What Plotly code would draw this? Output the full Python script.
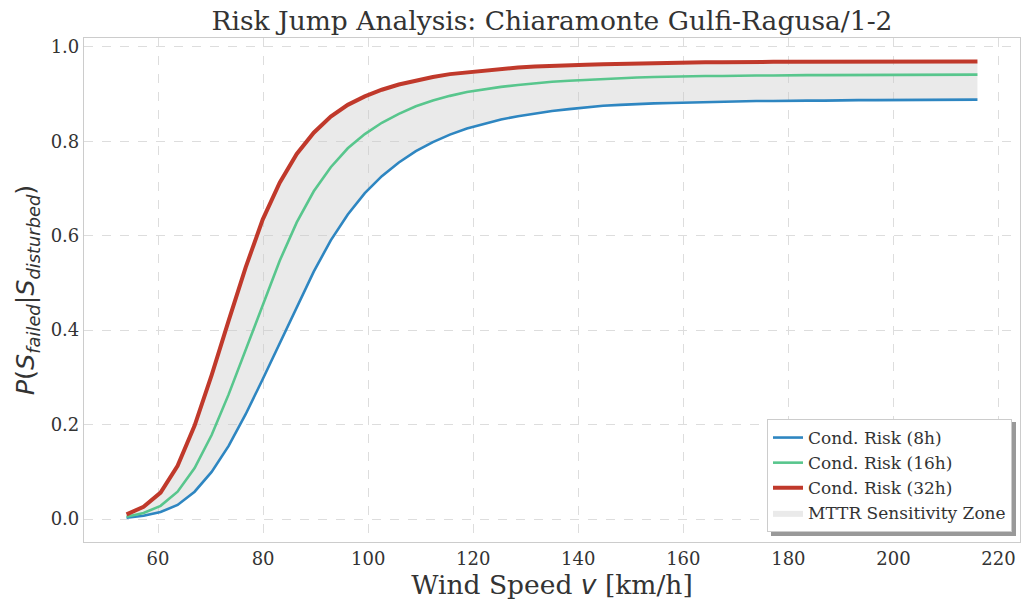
import plotly.graph_objects as go

wind_speed = [54.0, 57.24, 60.48, 63.72, 66.96, 70.2, 73.44, 76.68, 79.92, 83.16,
              86.4, 89.64, 92.88, 96.12, 99.36, 102.6, 105.84, 109.08, 112.32, 115.56,
              118.8, 122.04, 125.28, 128.52, 131.76, 135.0, 138.24, 141.48, 144.72, 147.96,
              151.2, 154.44, 157.68, 160.92, 164.16, 167.4, 170.64, 173.88, 177.12, 180.36,
              183.6, 186.84, 190.08, 193.32, 196.56, 199.8, 203.04, 206.28, 209.52, 212.76,
              216.0]

risk_8h = [0.003, 0.007, 0.015, 0.030, 0.058, 0.100, 0.155, 0.222, 0.296, 0.373,
           0.450, 0.524, 0.590, 0.645, 0.690, 0.726, 0.755, 0.779, 0.798, 0.814,
           0.827, 0.837, 0.846, 0.853, 0.859, 0.864, 0.868, 0.872, 0.875, 0.877,
           0.879, 0.880, 0.881, 0.882, 0.883, 0.884, 0.884, 0.885, 0.885, 0.886,
           0.886, 0.886, 0.887, 0.887, 0.887, 0.887, 0.888, 0.888, 0.888, 0.888, 0.888]

risk_16h = [0.005, 0.013, 0.028, 0.058, 0.108, 0.178, 0.264, 0.359, 0.455, 0.547,
            0.628, 0.694, 0.745, 0.785, 0.815, 0.839, 0.858, 0.874, 0.886, 0.896,
            0.904, 0.910, 0.915, 0.919, 0.923, 0.926, 0.928, 0.930, 0.932, 0.934,
            0.935, 0.936, 0.937, 0.937, 0.938, 0.938, 0.939, 0.939, 0.939, 0.940,
            0.940, 0.940, 0.940, 0.940, 0.941, 0.941, 0.941, 0.941, 0.941, 0.941, 0.941]

risk_32h = [0.010, 0.026, 0.056, 0.113, 0.198, 0.305, 0.420, 0.533, 0.634, 0.712,
            0.773, 0.818, 0.852, 0.877, 0.895, 0.909, 0.920, 0.929, 0.936, 0.942,
            0.946, 0.950, 0.953, 0.956, 0.958, 0.960, 0.961, 0.962, 0.963, 0.964,
            0.965, 0.966, 0.966, 0.967, 0.967, 0.967, 0.968, 0.968, 0.968, 0.968,
            0.968, 0.969, 0.969, 0.969, 0.969, 0.969, 0.969, 0.969, 0.969, 0.969, 0.969]

x_ticks = [60, 80, 100, 120, 140, 160, 180, 200, 220]
y_ticks = [0.0, 0.2, 0.4, 0.6, 0.8, 1.0]

SERIF = "DejaVu Serif"
SANS = "DejaVu Sans"

fig = go.Figure()

# MTTR sensitivity zone (between 8h and 32h)
fig.add_trace(go.Scatter(x=wind_speed, y=risk_32h, mode="lines",
                         line=dict(width=0, color="rgba(0,0,0,0)"),
                         showlegend=False, hoverinfo="skip"))
fig.add_trace(go.Scatter(x=wind_speed, y=risk_8h, mode="lines", fill="tonexty",
                         fillcolor="rgba(200,200,200,0.38)",
                         line=dict(width=0, color="rgba(0,0,0,0)"),
                         name="MTTR Sensitivity Zone", legendrank=4))

fig.add_trace(go.Scatter(x=wind_speed, y=risk_8h, mode="lines",
                         line=dict(color="#2E86C1", width=2.6),
                         name="Cond. Risk (8h)", legendrank=1))
fig.add_trace(go.Scatter(x=wind_speed, y=risk_16h, mode="lines",
                         line=dict(color="#58C68D", width=2.6),
                         name="Cond. Risk (16h)", legendrank=2))
fig.add_trace(go.Scatter(x=wind_speed, y=risk_32h, mode="lines",
                         line=dict(color="#C0392B", width=4),
                         name="Cond. Risk (32h)", legendrank=3))

L, R, T, B = 84, 6, 38, 59
W, H = 1026, 601
pw, ph = W - L - R, H - T - B


def px(xp):
    return (xp - L) / pw


def py(yp):
    return (H - B - yp) / ph


# legend drop shadow (drawn beneath the legend box)
fig.add_shape(type="rect", xref="paper", yref="paper",
              x0=px(771), x1=px(1016), y0=py(536), y1=py(422),
              fillcolor="#999999", line=dict(width=0), layer="above")

fig.update_layout(
    width=W, height=H,
    margin=dict(l=L, r=R, t=T, b=B),
    paper_bgcolor="white", plot_bgcolor="white",
    font=dict(family=SERIF, color="#333333"),
    title=dict(text="Risk Jump Analysis: Chiaramonte Gulfi-Ragusa/1-2",
               x=0.5, xref="paper", xanchor="center", y=0.965, yanchor="middle",
               font=dict(family=SERIF, size=26.5, color="#333333")),
    xaxis=dict(range=[45.9, 224.1], tickvals=x_ticks, ticktext=[str(v) for v in x_ticks],
               showgrid=True, gridcolor="#dddddd", griddash="dash", gridwidth=1,
               showline=True, mirror=True, linecolor="#cccccc", linewidth=1.2,
               zeroline=False, ticks="", tickfont=dict(size=18, family=SERIF, color="#333333"),
               title=dict(text="Wind Speed <span style='font-family:DejaVu Sans'><i>v</i></span> [km/h]",
                          font=dict(size=26.5, family=SERIF, color="#333333"), standoff=6)),
    yaxis=dict(range=[-0.0485, 1.0185], tickvals=y_ticks, ticktext=["%.1f" % v for v in y_ticks],
               showgrid=True, gridcolor="#dddddd", griddash="dash", gridwidth=1,
               showline=True, mirror=True, linecolor="#cccccc", linewidth=1.2,
               zeroline=False, ticks="", tickfont=dict(size=18, family=SERIF, color="#333333"),
               title=dict(text="<i>P</i>(<i>S</i><sub><i>failed</i></sub>|<i>S</i><sub><i>disturbed</i></sub>)",
                          font=dict(size=25.5, family=SANS, color="#333333"), standoff=8)),
    legend=dict(x=px(1012), xanchor="right", y=py(532), yanchor="bottom",
                bgcolor="white", bordercolor="#cccccc", borderwidth=1,
                font=dict(family=SERIF, size=17, color="#333333"),
                traceorder="normal", itemwidth=30, tracegroupgap=0),
)

fig.write_html("out.html", config={"displayModeBar": False},
               post_script="document.body.style.margin='0';document.body.style.overflow='hidden';")
